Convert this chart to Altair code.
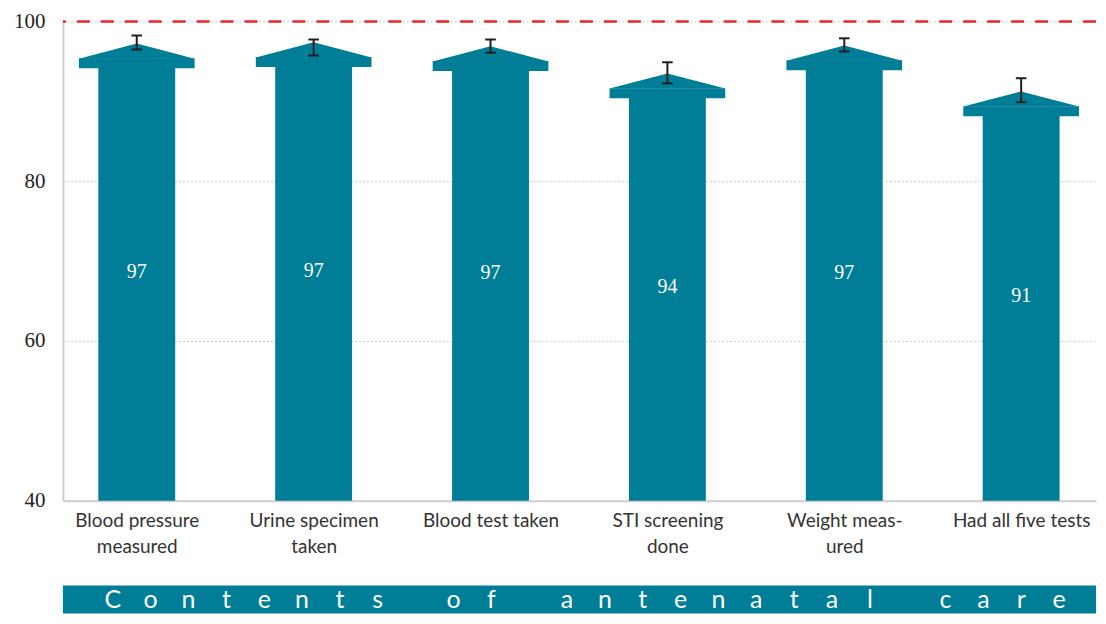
import altair as alt
import pandas as pd

# ---- data ----
categories = ["Blood pressure|measured", "Urine specimen|taken", "Blood test taken",
              "STI screening|done", "Weight meas-|ured", "Had all five tests"]
values = [97.25, 97.4, 96.9, 93.5, 97.0, 91.25]
ci_low = [96.5, 95.75, 96.1, 92.25, 96.25, 89.9]
ci_high = [98.25, 97.75, 97.75, 94.9, 97.9, 92.9]
reference_line = [100]
banner_title = "Contents of antenatal care"

TEAL = "#007D97"
RED = "#E8262B"
DARK = "#231F20"
GRAY = "#CFCFCF"

# style constants (shape of the arrows, in data units)
BODY_HALF = 0.2173
HEAD_HALF = 0.327
HEAD_SLOPE = 1.9
HEAD_DEPTH = 3.1
CAP_HALF = 0.03

idx = list(range(len(categories)))
base = pd.DataFrame({"i": idx, "cat": categories, "v": values, "lo": ci_low, "hi": ci_high})
base["body_l"] = base.i - BODY_HALF
base["body_r"] = base.i + BODY_HALF
base["head_l"] = base.i - HEAD_HALF
base["head_r"] = base.i + HEAD_HALF
base["body_top"] = base.v - HEAD_DEPTH + 0.1
base["sh_bot"] = base.v - HEAD_DEPTH
base["sh_top"] = base.v - HEAD_SLOPE + 0.05
base["mid"] = (base.v + 40) / 2
base["cap_l"] = base.i - CAP_HALF
base["cap_r"] = base.i + CAP_HALF

tri_rows = []
for i, v in zip(idx, values):
    tri_rows.append({"cat": i, "x": i - HEAD_HALF, "y": v - HEAD_SLOPE, "y2": v - HEAD_SLOPE})
    tri_rows.append({"cat": i, "x": i, "y": v, "y2": v - HEAD_SLOPE})
    tri_rows.append({"cat": i, "x": i + HEAD_HALF, "y": v - HEAD_SLOPE, "y2": v - HEAD_SLOPE})
tri = pd.DataFrame(tri_rows)

caps = pd.concat([
    pd.DataFrame({"l": base.cap_l, "r": base.cap_r, "y": base.lo}),
    pd.DataFrame({"l": base.cap_l, "r": base.cap_r, "y": base.hi}),
])

W, H = 1035, 480
STEP = 177.2
x0 = -74 / STEP
xscale = alt.Scale(domain=[x0, x0 + W / STEP], nice=False, zero=False)
yscale = alt.Scale(domain=[40, 100], nice=False, zero=False)

label_arr = "[" + ",".join("'" + c + "'" for c in categories) + "]"
xaxis = alt.Axis(values=idx, title=None, grid=False, ticks=False, domainColor=GRAY, domainWidth=2,
                 labelExpr="split(" + label_arr + "[round(datum.value)], '|')",
                 labelFont="Lato", labelFontSize=19, labelColor="#333333", labelPadding=11,
                 labelLineHeight=26, labelOverlap=False, labelFlush=False, labelBound=False)
yaxis = alt.Axis(values=[40, 60, 80, 100], title=None, ticks=False, domainColor=GRAY, domainWidth=2,
                 grid=True, gridColor="#C8C8C8", gridDash=[2, 2], gridWidth=1,
                 labelFont="Liberation Serif", labelFontSize=21, labelColor="#222222", labelPadding=18)

body = alt.Chart(base).mark_rect(color=TEAL).encode(
    x=alt.X("body_l:Q", scale=xscale, axis=xaxis), x2="body_r:Q",
    y=alt.Y("datum_base:Q", scale=yscale, axis=yaxis), y2="body_top:Q",
).transform_calculate(datum_base="40")

shoulder = alt.Chart(base).mark_rect(color=TEAL).encode(
    x="head_l:Q", x2="head_r:Q", y="sh_bot:Q", y2="sh_top:Q")

head = alt.Chart(tri).mark_area(color=TEAL, opacity=1).encode(
    x="x:Q", y="y:Q", y2="y2:Q", detail="cat:N")

err = alt.Chart(base).mark_rule(color=DARK, strokeWidth=2).encode(
    x="i:Q", y="lo:Q", y2="hi:Q")
cap = alt.Chart(caps).mark_rule(color=DARK, strokeWidth=2).encode(
    x="l:Q", x2="r:Q", y="y:Q")

labels = alt.Chart(base).mark_text(color="white", font="Liberation Serif", fontSize=20,
                                   baseline="middle").encode(
    x="i:Q", y="mid:Q", text=alt.Text("v:Q", format=".0f"))

ref = alt.Chart(pd.DataFrame({"r": reference_line})).mark_rule(
    color=RED, strokeWidth=2.5, strokeDash=[13, 11]).encode(y="r:Q")

top = alt.layer(body, shoulder, head, err, cap, labels, ref).properties(width=W, height=H)

BSLOT = 37.92
b0 = -50 / BSLOT
chars = pd.DataFrame({"k": list(range(len(banner_title))), "ch": list(banner_title)})
banner = alt.Chart(chars).mark_text(color="white", font="Lato", fontSize=25, baseline="middle").encode(
    x=alt.X("k:Q", scale=alt.Scale(domain=[b0, b0 + W / BSLOT], nice=False, zero=False), axis=None),
    y=alt.value(15),
    text="ch:N",
).properties(width=W, height=28, view=alt.ViewBackground(fill=TEAL, strokeWidth=0))

chart = alt.vconcat(top, banner, spacing=29).properties(
    padding={"left": 5, "top": 2, "right": 0, "bottom": 0}
).configure_view(strokeWidth=0)

chart.save("out.html", embed_options={"renderer": "svg", "actions": False})
